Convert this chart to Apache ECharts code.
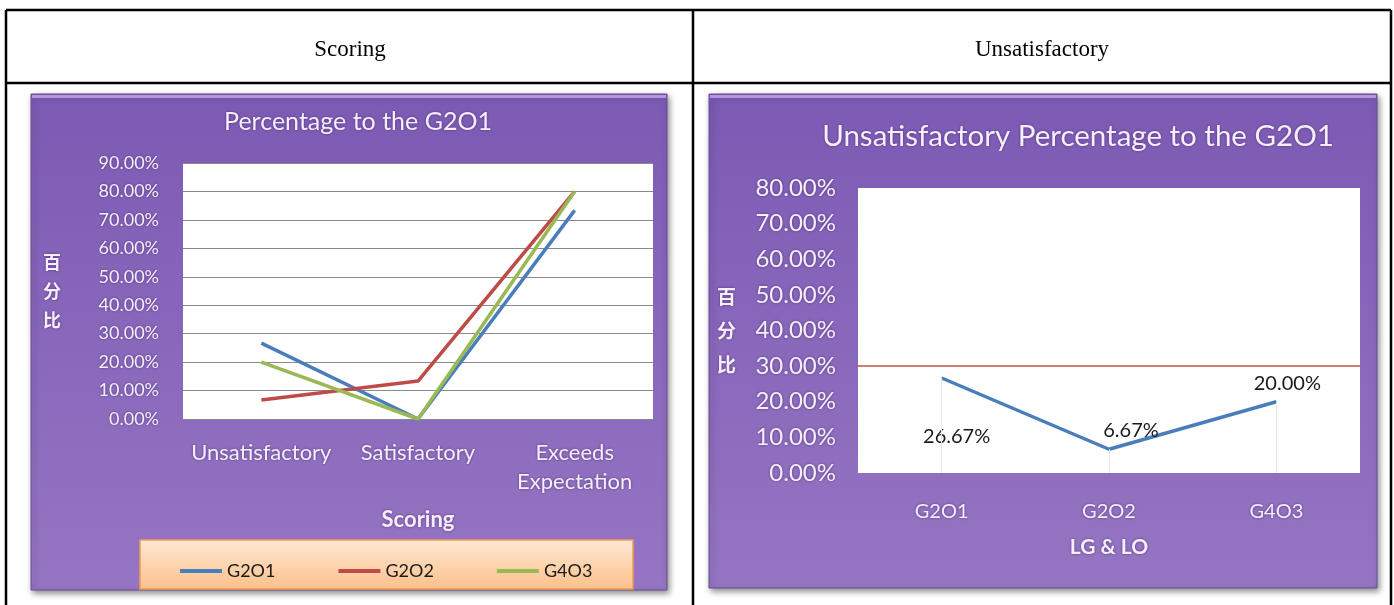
<!DOCTYPE html>
<html>
<head>
<meta charset="utf-8">
<title>Scoring / Unsatisfactory</title>
<script src="https://cdn.jsdelivr.net/npm/echarts@6/dist/echarts.min.js"></script>
<style>
  html, body { margin: 0; padding: 0; background: #fff; }
  #main { width: 1394px; height: 605px; }
</style>
</head>
<body>
<div id="main"></div>
<script>
// 左图：各等级百分比
var scoreCategories = ['Unsatisfactory', 'Satisfactory', 'Exceeds\nExpectation'];
var seriesNames = ['G2O1', 'G2O2', 'G4O3'];
var g2o1Values = [26.67, 0, 73.33];
var g2o2Values = [6.67, 13.33, 80];
var g4o3Values = [20, 0, 80];
var leftTicks = [0, 10, 20, 30, 40, 50, 60, 70, 80, 90];

// 右图：不满意百分比
var groupCategories = ['G2O1', 'G2O2', 'G4O3'];
var unsatisfactoryValues = [26.67, 6.67, 20];
var thresholdValues = [30];
var rightTicks = [0, 10, 20, 30, 40, 50, 60, 70, 80];

var headerTexts = ['Scoring', 'Unsatisfactory'];

var colors = ['#4a7ebb', '#be4b48', '#98b954'];
var labelOffsets = [[15, 40], [22, 0], [11, 0]];

var myChart = echarts.init(document.getElementById('main'));

var lightText = {
  color: '#f4effa',
  fontFamily: 'Lato',
  textShadowColor: 'rgba(60,30,100,0.7)',
  textShadowBlur: 3
};

function pct(v) {
  return Number(v).toFixed(2) + '%';
}

// 紫色外框
function frame(x, y, w, h) {
  return {
    type: 'rect',
    z: -5,
    silent: true,
    shape: { x: x, y: y, width: w, height: h },
    style: {
      fill: new echarts.graphic.LinearGradient(0, 0, 0, 1, [
        { offset: 0, color: '#7c5ab4' },
        { offset: 1, color: '#9675c3' }
      ]),
      stroke: '#6b4c9c',
      lineWidth: 1,
      shadowBlur: 6,
      shadowOffsetX: 2,
      shadowOffsetY: 3,
      shadowColor: 'rgba(0,0,0,0.45)'
    }
  };
}

// 顶部浅色边
function bevel(x, y, w) {
  return {
    type: 'rect',
    z: -4,
    silent: true,
    shape: { x: x + 1, y: y + 1, width: w - 2, height: 3 },
    style: { fill: '#b596e0' }
  };
}

function line(x1, y1, x2, y2) {
  return {
    type: 'line',
    z: -6,
    silent: true,
    shape: { x1: x1, y1: y1, x2: x2, y2: y2 },
    style: { stroke: '#000', lineWidth: 2.5 }
  };
}

var option = {
  animation: false,
  graphic: [
    line(6, 10, 1391, 10),
    line(6, 10, 6, 610),
    line(1391, 10, 1391, 610),
    line(6, 83, 1391, 83),
    line(693, 10, 693, 610),
    frame(31, 94, 636, 496),
    frame(709, 94, 668, 494),
    bevel(31, 94, 636),
    bevel(709, 94, 668),
    {
      type: 'rect',
      z: -4,
      silent: true,
      shape: { x: 140, y: 540, width: 493, height: 49 },
      style: {
        fill: new echarts.graphic.LinearGradient(0, 0, 0, 1, [
          { offset: 0, color: '#fee9d4' },
          { offset: 1, color: '#fcc08a' }
        ]),
        stroke: '#f29a50',
        lineWidth: 1.5
      }
    }
  ],
  title: [
    {
      text: headerTexts[0], left: 350, top: 38, textAlign: 'center', padding: 0,
      textStyle: { fontFamily: 'Liberation Serif', fontSize: 23, fontWeight: 'normal', color: '#000' }
    },
    {
      text: headerTexts[1], left: 1042, top: 38, textAlign: 'center', padding: 0,
      textStyle: { fontFamily: 'Liberation Serif', fontSize: 23, fontWeight: 'normal', color: '#000' }
    },
    {
      text: 'Percentage to the G2O1', left: 358, top: 109, textAlign: 'center', padding: 0,
      textStyle: Object.assign({}, lightText, { fontSize: 25, fontWeight: 'normal' })
    },
    {
      text: 'Unsatisfactory Percentage to the G2O1', left: 1078, top: 121, textAlign: 'center', padding: 0,
      textStyle: Object.assign({}, lightText, { fontSize: 29.5, fontWeight: 'normal' })
    }
  ],
  legend: {
    data: seriesNames,
    left: 180,
    top: 562,
    padding: 0,
    icon: 'rect',
    itemWidth: 42,
    itemHeight: 4,
    itemGap: 63,
    textStyle: { fontFamily: 'Lato', fontSize: 18, color: '#1a1a1a' }
  },
  grid: [
    {
      left: 183, top: 163, width: 470, height: 256,
      show: true, backgroundColor: '#fff', borderWidth: 0
    },
    {
      left: 858, top: 188, width: 502, height: 285,
      show: true, backgroundColor: '#fff', borderWidth: 0
    }
  ],
  xAxis: [
    {
      gridIndex: 0,
      type: 'category',
      data: scoreCategories,
      name: 'Scoring',
      nameLocation: 'middle',
      nameGap: 90,
      nameTextStyle: Object.assign({}, lightText, { fontSize: 22, fontWeight: 'bold' }),
      axisLine: { show: false },
      axisTick: { show: false },
      axisLabel: Object.assign({}, lightText, { fontSize: 22, margin: 19, lineHeight: 29, interval: 0 })
    },
    {
      gridIndex: 1,
      type: 'category',
      data: groupCategories,
      name: 'LG & LO',
      nameLocation: 'middle',
      nameGap: 64,
      nameTextStyle: Object.assign({}, lightText, { fontSize: 21, fontWeight: 'bold' }),
      axisLine: { show: false },
      axisTick: { show: false },
      axisLabel: Object.assign({}, lightText, { fontSize: 20, margin: 29 })
    }
  ],
  yAxis: [
    {
      gridIndex: 0,
      type: 'value',
      min: leftTicks[0],
      max: leftTicks[leftTicks.length - 1],
      interval: leftTicks[1] - leftTicks[0],
      name: '百\n分\n比',
      nameLocation: 'middle',
      nameRotate: 0,
      nameGap: 122,
      nameTextStyle: Object.assign({}, lightText, { fontFamily: 'Noto Sans CJK SC', fontSize: 18, fontWeight: 'bold', lineHeight: 29 }),
      axisLine: { show: false },
      axisTick: { show: false },
      axisLabel: Object.assign({}, lightText, { fontSize: 18, margin: 24, formatter: pct }),
      splitLine: { lineStyle: { color: '#8a8a8a', width: 1 } }
    },
    {
      gridIndex: 1,
      type: 'value',
      min: rightTicks[0],
      max: rightTicks[rightTicks.length - 1],
      interval: rightTicks[1] - rightTicks[0],
      name: '百\n分\n比',
      nameLocation: 'middle',
      nameRotate: 0,
      nameGap: 122,
      nameTextStyle: Object.assign({}, lightText, {
        fontFamily: 'Noto Sans CJK SC', fontSize: 19, fontWeight: 'bold', lineHeight: 34,
        padding: [0, 0, 48, 0]
      }),
      axisLine: { show: false },
      axisTick: { show: false },
      axisLabel: Object.assign({}, lightText, { fontSize: 24, margin: 22, formatter: pct }),
      splitLine: { show: false }
    }
  ],
  series: [
    {
      name: seriesNames[0], type: 'line', xAxisIndex: 0, yAxisIndex: 0,
      data: g2o1Values, symbol: 'none', color: colors[0], lineStyle: { width: 3.5 }
    },
    {
      name: seriesNames[1], type: 'line', xAxisIndex: 0, yAxisIndex: 0,
      data: g2o2Values, symbol: 'none', color: colors[1], lineStyle: { width: 3.5 }
    },
    {
      name: seriesNames[2], type: 'line', xAxisIndex: 0, yAxisIndex: 0,
      data: g4o3Values, symbol: 'none', color: colors[2], lineStyle: { width: 3.5 }
    },
    {
      name: 'Unsatisfactory', type: 'line', xAxisIndex: 1, yAxisIndex: 1,
      symbol: 'circle', symbolSize: 1, showSymbol: true,
      color: '#4a7ebb', lineStyle: { width: 3.5 },
      data: unsatisfactoryValues.map(function (v, i) {
        return {
          value: v,
          label: { position: i === 0 ? 'bottom' : 'top', offset: labelOffsets[i] }
        };
      }),
      label: {
        show: true,
        distance: 8,
        fontFamily: 'Lato',
        fontSize: 20,
        color: '#1a1a1a',
        formatter: function (p) { return pct(p.value); }
      },
      markLine: {
        silent: true,
        symbol: ['none', 'none'],
        label: { show: false },
        data: [
          { yAxis: thresholdValues[0], lineStyle: { color: '#c0504d', width: 1.5, type: 'solid' } }
        ].concat(unsatisfactoryValues.map(function (v, i) {
          // 垂直线
          return [
            { coord: [i, 0], lineStyle: { color: '#e6e6e6', width: 1, type: 'solid' } },
            { coord: [i, v] }
          ];
        }))
      }
    }
  ]
};

myChart.setOption(option);
</script>
</body>
</html>
